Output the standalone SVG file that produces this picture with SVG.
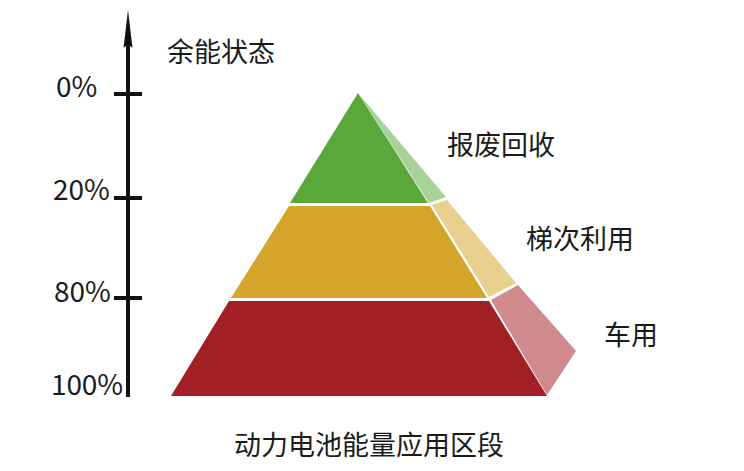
<svg xmlns="http://www.w3.org/2000/svg" width="744" height="471" viewBox="0 0 744 471">
<style>
text{font-family:"Noto Sans CJK SC","Liberation Sans",sans-serif;fill:#1a1a1a;}
.lab{font-size:27px;}
.pct{font-size:28px;}
.axis{stroke:#111;stroke-width:4;fill:none;}
</style>
<rect width="744" height="471" fill="#fff"/>
<g id="axis">
<line class="axis" x1="128" y1="40" x2="128" y2="397"/>
<polygon points="128,10 132.5,48 128,44 123.5,48" fill="#111"/>
<line class="axis" x1="114" y1="94" x2="142" y2="94"/>
<line class="axis" x1="114" y1="198" x2="142" y2="198"/>
<line class="axis" x1="114" y1="298" x2="142" y2="298"/>
<text class="pct" x="56" y="97">0%</text>
<text class="pct" x="53" y="200">20%</text>
<text class="pct" x="54" y="302">80%</text>
<text class="pct" x="51" y="395" textLength="72">100%</text>
<text class="lab" x="167" y="62">余能状态</text>
</g>
<g id="layer-scrap">
<polygon points="358,93 428,203 290,203" fill="#5ba83a"/>
<polygon points="358,93 446,197 429,203" fill="#a7d39a"/>
<text class="lab" x="447" y="155">报废回收</text>
</g>
<g id="layer-reuse">
<polygon points="289,206 430,206 487,298 231,298" fill="#d5a52b"/>
<polygon points="432,205 447,200 516,283 489,297" fill="#e8d08f"/>
<text class="lab" x="526" y="249">梯次利用</text>
</g>
<g id="layer-vehicle">
<polygon points="229,301 489,301 547,396 171,396" fill="#a31f26"/>
<polygon points="491,300 518,285 576,351 547,395" fill="#d0898d"/>
<text class="lab" x="604" y="345">车用</text>
</g>
<g id="caption">
<text class="lab" x="234" y="455">动力电池能量应用区段</text>
</g>
</svg>
